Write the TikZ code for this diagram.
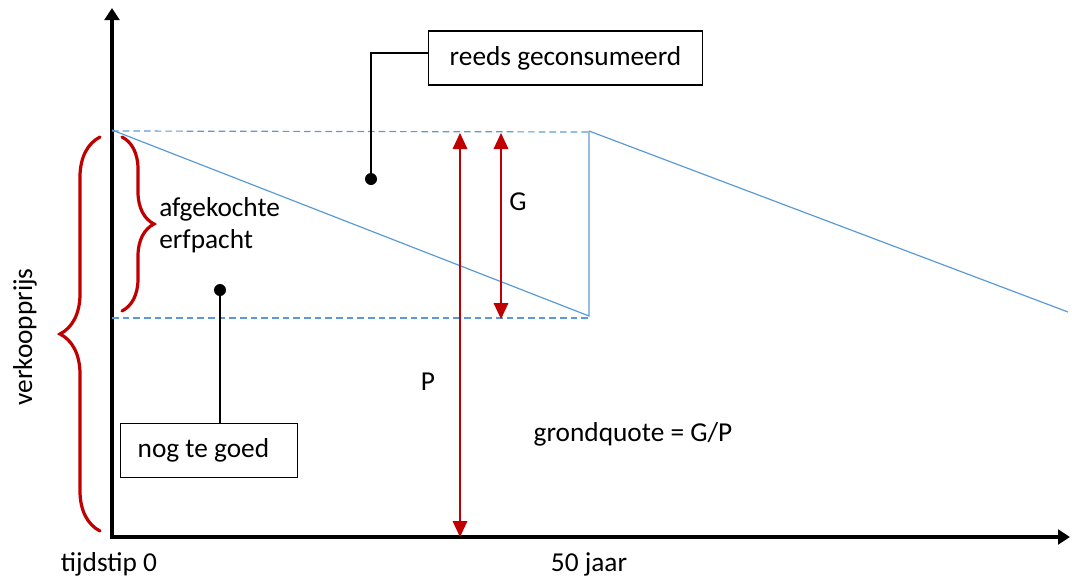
\documentclass[tikz,border=0pt]{standalone}
\usepackage{fontspec}
\setmainfont{Carlito}
\usetikzlibrary{arrows.meta,decorations.pathreplacing}
\definecolor{lblue}{HTML}{5B9BD5}
\definecolor{dred}{HTML}{C00000}
\begin{document}
\begin{tikzpicture}[x=0.75pt,y=-0.75pt,
  every node/.style={font=\fontsize{20.5}{24}\selectfont, inner sep=0pt},
  axis/.style={line width=3pt, -{Triangle[width=11pt,length=9pt]}},
  bline/.style={draw=lblue, line width=0.9pt},
  bdash/.style={draw=lblue, line width=0.9pt, dash pattern=on 5pt off 3pt},
  redarr/.style={draw=dred, line width=0.9pt, {Triangle[width=11pt,length=12pt]}-{Triangle[width=11pt,length=12pt]}},
  bracestyle/.style={draw=dred, line width=2.4pt, line cap=round, decorate},
  box/.style={draw, line width=1.2pt, minimum height=40.5pt},
  dot/.style={circle, fill=black, minimum size=9pt},
  conn/.style={line width=1.2pt}]
\useasboundingbox (0,0) rectangle (1072,579);
% axes
\coordinate (ytop) at (112,8);
\coordinate (xend) at (1070,537);
\draw[axis] (112,539) -- (ytop);
\draw[axis] (110,537) -- (xend);
% blue lines
\coordinate (A) at (112,130);
\coordinate (B) at (589,316);
\coordinate (C) at (589,131);
\coordinate (D) at (1068,312);
\coordinate (T1) at (112,131);
\coordinate (T2) at (589,132);
\coordinate (L1) at (112,318);
\coordinate (L2) at (589,318);
\draw[bdash] (T1) -- (T2);
\draw[bdash] (L1) -- (L2);
\draw[bline] (A) -- (B) -- (C);
\draw[bline] (C) -- (D);
% red arrows
\coordinate (P1) at (460,133);
\coordinate (P2) at (460,537);
\coordinate (G1) at (501,133);
\coordinate (G2) at (501,319);
\draw[redarr] (P1) -- (P2);
\draw[redarr] (G1) -- (G2);
\node (G) at (518,202) {G};
\node (P) at (428,382) {P};
\node (gq) at (633,434) {grondquote = G/P};
% braces
\draw[bracestyle, decoration={brace, amplitude=24pt}] (122,137) -- (122,311);
\draw[bracestyle, decoration={brace, amplitude=30pt}] (100,531) -- (100,137);
\node[anchor=west, align=left] (af) at (159,225) {afgekochte\\erfpacht};
\node[rotate=90] (vk) at (25,337) {verkoopprijs};
% boxes and callouts
\node[box, minimum width=205.5pt] (rg) at (565.5,58) {reeds geconsumeerd};
\node[box, minimum width=132.75pt, inner xsep=12.5pt] (ng) at (209,450.5) {\makebox[107pt][l]{nog te goed}};
\node[dot] (d1) at (371,179) {};
\node[dot] (d2) at (220,290) {};
\coordinate (k1) at (371,53);
\draw[conn] (d1) -- (k1) -- (k1 -| rg.west);
\draw[conn] (d2) -- (d2 |- ng.north);
% axis labels
\node (t0) at (109,564) {tijdstip 0};
\node (j50) at (589,564) {50 jaar};
\end{tikzpicture}
\end{document}
